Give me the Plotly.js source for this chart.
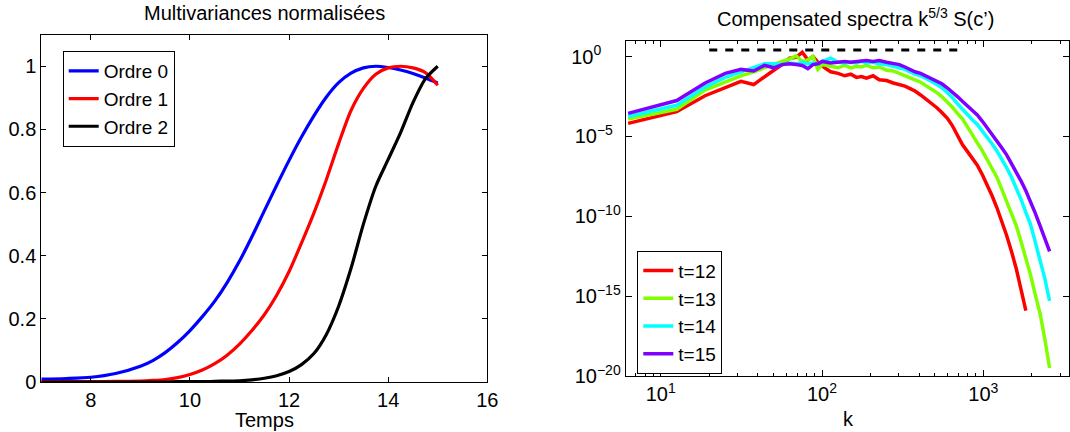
<!DOCTYPE html>
<html>
<head>
<meta charset="utf-8">
<script src="https://cdn.plot.ly/plotly-3.0.1.min.js"></script>
<style>html,body{margin:0;padding:0;background:#fff;}#chart{width:1070px;height:432px;}</style>
</head>
<body>
<div id="chart"></div>
<script>
// ---------- Left panel data: normalised multivariances ----------
const temps = [7, 7.5, 8, 8.5, 9, 9.25, 9.5, 9.75, 10, 10.25, 10.5, 10.75, 11, 11.25, 11.5, 11.75, 12, 12.25, 12.5, 12.75, 13, 13.25, 13.5, 13.75, 14, 14.25, 14.5, 14.75, 15];
const ordre0 = [0.009, 0.011, 0.015, 0.027, 0.050, 0.068, 0.093, 0.125, 0.163, 0.207, 0.256, 0.315, 0.383, 0.460, 0.542, 0.623, 0.702, 0.776, 0.843, 0.902, 0.948, 0.978, 0.995, 1.0, 0.996, 0.988, 0.977, 0.963, 0.947];
const ordre1 = [0.001, 0.001, 0.001, 0.002, 0.003, 0.005, 0.008, 0.014, 0.024, 0.038, 0.058, 0.085, 0.12, 0.163, 0.213, 0.275, 0.35, 0.44, 0.535, 0.64, 0.755, 0.86, 0.93, 0.975, 0.995, 1.0, 0.995, 0.98, 0.94];
const ordre2 = [0.0, 0.0, 0.0, 0.0, 0.0, 0.0, 0.0, 0.001, 0.001, 0.001, 0.002, 0.003, 0.004, 0.007, 0.012, 0.02, 0.033, 0.055, 0.09, 0.15, 0.24, 0.36, 0.5, 0.62, 0.705, 0.79, 0.885, 0.96, 1.0];
const leftNames = ['Ordre 0', 'Ordre 1', 'Ordre 2'];
const leftXTicks = [8, 10, 12, 14, 16];
const leftYTicks = [0, 0.2, 0.4, 0.6, 0.8, 1];

// ---------- Right panel data: compensated spectra (log10 of value) ----------
const kvals = [6.28, 12.57, 18.85, 25.13, 31.42, 37.70, 43.98, 50.27, 56.55, 62.83, 69.12, 75.40, 81.68, 87.96, 94.25, 100.5, 113.1, 125.7, 138.2, 150.8, 163.4, 175.9, 188.5, 207.3, 226.2, 251.3, 276.5, 301.6, 326.7, 351.9, 377.0, 408.4, 439.8, 477.5, 515.2, 552.9, 596.9, 640.9, 691.2, 741.4, 798.0, 854.5, 917.3, 986.5, 1055.6, 1131.0, 1212.6, 1300.6, 1394.9, 1495.4, 1602.2, 1715.3, 1834.7, 1960.4, 2098.6, 2249.4, 2406.5, 2576.1];
const logS_t12 = [-4.18, -3.45, -2.45, -1.95, -1.55, -1.75, -1.3, -0.85, -0.5, -0.1, -0.05, 0.27, -0.2, 0.0, -0.35, -0.6, -0.95, -1.05, -1.2, -1.1, -1.3, -1.25, -1.35, -1.2, -1.45, -1.5, -1.65, -1.75, -1.85, -2.0, -2.15, -2.4, -2.65, -2.95, -3.2, -3.5, -3.85, -4.3, -4.9, -5.5, -5.95, -6.4, -6.8, -7.4, -8.0, -8.7, -9.45, -10.3, -11.2, -12.2, -13.3, -14.6, -15.9];
const logS_t13 = [-3.9, -3.3, -2.1, -1.6, -1.2, -0.95, -0.7, -0.45, -0.3, -0.15, 0.05, -0.3, -0.2, 0.0, -0.8, -0.5, -0.6, -0.7, -0.55, -0.7, -0.6, -0.65, -0.55, -0.7, -0.65, -0.85, -0.9, -1.05, -1.15, -1.3, -1.45, -1.6, -1.8, -2.0, -2.25, -2.5, -2.8, -3.15, -3.55, -3.9, -4.4, -4.85, -5.4, -5.9, -6.45, -6.95, -7.55, -8.3, -9.05, -9.8, -10.6, -11.6, -12.6, -13.65, -14.9, -16.1, -17.7, -19.5];
const logS_t14 = [-3.75, -3.05, -1.9, -1.3, -0.95, -0.65, -0.45, -0.45, -0.5, -0.4, -0.45, -0.35, -0.45, -0.4, -0.45, -0.3, -0.1, -0.35, -0.4, -0.35, -0.4, -0.3, -0.4, -0.35, -0.45, -0.5, -0.6, -0.7, -0.8, -0.95, -1.1, -1.2, -1.35, -1.55, -1.75, -1.95, -2.25, -2.55, -2.95, -3.3, -3.65, -3.95, -4.25, -4.65, -5.05, -5.45, -5.9, -6.4, -6.95, -7.55, -8.2, -8.95, -9.75, -10.5, -11.6, -12.7, -13.9, -15.3];
const logS_t15 = [-3.55, -2.75, -1.65, -1.05, -0.8, -0.9, -0.55, -0.7, -0.5, -0.45, -0.5, -0.55, -0.75, -0.5, -0.45, -0.3, -0.4, -0.35, -0.3, -0.35, -0.3, -0.3, -0.25, -0.3, -0.25, -0.35, -0.45, -0.5, -0.65, -0.8, -0.95, -1.05, -1.2, -1.35, -1.5, -1.7, -1.95, -2.2, -2.5, -2.8, -3.1, -3.35, -3.65, -4.05, -4.45, -4.8, -5.25, -5.7, -6.15, -6.7, -7.2, -7.8, -8.4, -9.05, -9.8, -10.6, -11.4, -12.2];
const rightNames = ['t=12', 't=13', 't=14', 't=15'];
const refLineK = [20, 690];
const refLineS = [2.6, 2.6];
const rightXTicks = [10, 100, 1000];
const rightXTickText = ['10<sup>1</sup>', '10<sup>2</sup>', '10<sup>3</sup>'];
const rightXMinor = [7, 8, 9, 20, 30, 40, 50, 60, 70, 80, 90, 200, 300, 400, 500, 600, 700, 800, 900, 2000, 3000];
const rightYTicks = [1e-20, 1e-15, 1e-10, 1e-5, 1];
const rightYTickText = ['10<sup>\u221220</sup>', '10<sup>\u221215</sup>', '10<sup>\u221210</sup>', '10<sup>\u22125&nbsp;&nbsp;</sup>', '10<sup>0&nbsp;&nbsp;&nbsp;&nbsp;&nbsp;</sup>'];

const leftColors = ['#0000ff', '#ff0000', '#000000'];
const rightColors = ['#ff0000', '#80ff00', '#00ffff', '#8000ff'];
const FONT = 'Liberation Sans, Arial, Helvetica, sans-serif';
const W = 1070, H = 432;

const traces = [];
[ordre0, ordre1, ordre2].forEach((ys, i) => {
  traces.push({x: temps, y: ys, type: 'scatter', mode: 'lines', name: leftNames[i],
    line: {color: leftColors[i], width: 3.2, shape: 'spline', smoothing: 0.8}, xaxis: 'x', yaxis: 'y', legend: 'legend'});
});
traces.push({x: refLineK, y: refLineS, type: 'scatter', mode: 'lines', showlegend: false,
  line: {color: '#000', width: 3, dash: '8px,8px'}, xaxis: 'x2', yaxis: 'y2'});
[logS_t12, logS_t13, logS_t14, logS_t15].forEach((ls, i) => {
  traces.push({x: kvals.slice(0, ls.length), y: ls.map(v => Math.pow(10, v)), type: 'scatter', mode: 'lines', name: rightNames[i],
    line: {color: rightColors[i], width: 3.5}, xaxis: 'x2', yaxis: 'y2', legend: 'legend2'});
});

const axCommon = {showline: true, linecolor: '#000', linewidth: 1, mirror: 'ticks', ticks: 'inside',
  tickcolor: '#000', ticklen: 5, tickwidth: 1, showgrid: false, zeroline: false,
  tickfont: {family: FONT, size: 20, color: '#000'}};

const layout = {
  width: W, height: H,
  margin: {l: 0, r: 0, t: 0, b: 0},
  paper_bgcolor: '#fff', plot_bgcolor: '#fff',
  font: {family: FONT, size: 20, color: '#000'},
  xaxis: Object.assign({}, axCommon, {domain: [41.3 / W, 487.3 / W], range: [7, 16], tickmode: 'array', tickvals: leftXTicks, anchor: 'y'}),
  yaxis: Object.assign({}, axCommon, {domain: [1 - 382 / H, 1 - 34.7 / H], range: [0, 1.1], tickmode: 'array', tickvals: leftYTicks, anchor: 'x'}),
  xaxis2: Object.assign({}, axCommon, {domain: [625.7 / W, 1069.3 / W], type: 'log', range: [0.783, 3.533], tickmode: 'array',
    tickvals: rightXTicks, ticktext: rightXTickText, ticklen: 6, anchor: 'y2',
    minor: {tickmode: 'array', tickvals: rightXMinor, ticks: 'inside', ticklen: 3, tickcolor: '#000', tickwidth: 1}}),
  yaxis2: Object.assign({}, axCommon, {domain: [1 - 376 / H, 1 - 41.3 / H], type: 'log', range: [-20, 0.96], tickmode: 'array',
    tickvals: rightYTicks, ticktext: rightYTickText, ticklen: 6, anchor: 'x2'}),
  legend: {x: 62.7 / W, y: 1 - 51 / H, xanchor: 'left', yanchor: 'top', bgcolor: '#fff', bordercolor: '#000', borderwidth: 1,
    font: {family: FONT, size: 19, color: '#000'}, tracegroupgap: 0},
  legend2: {x: 637.3 / W, y: 1 - 250.7 / H, xanchor: 'left', yanchor: 'top', bgcolor: '#fff', bordercolor: '#000', borderwidth: 1,
    font: {family: FONT, size: 19, color: '#000'}, tracegroupgap: 0},
  annotations: [
    {text: 'Multivariances normalisées', x: 264.3 / W, y: 1 - 13 / H, xref: 'paper', yref: 'paper', xanchor: 'center', yanchor: 'middle', showarrow: false, font: {family: FONT, size: 20, color: '#000'}},
    {text: 'Compensated spectra k<sup>5/3</sup> S(c\u2019)', x: 855 / W, y: 1 - 17 / H, xref: 'paper', yref: 'paper', xanchor: 'center', yanchor: 'middle', showarrow: false, font: {family: FONT, size: 20, color: '#000'}},
    {text: 'Temps', x: 264.3 / W, y: 1 - 420 / H, xref: 'paper', yref: 'paper', xanchor: 'center', yanchor: 'middle', showarrow: false, font: {family: FONT, size: 20, color: '#000'}},
    {text: 'k', x: 848 / W, y: 1 - 419 / H, xref: 'paper', yref: 'paper', xanchor: 'center', yanchor: 'middle', showarrow: false, font: {family: FONT, size: 20, color: '#000'}}
  ]
};

Plotly.newPlot('chart', traces, layout, {staticPlot: true, displayModeBar: false});
</script>
</body>
</html>
